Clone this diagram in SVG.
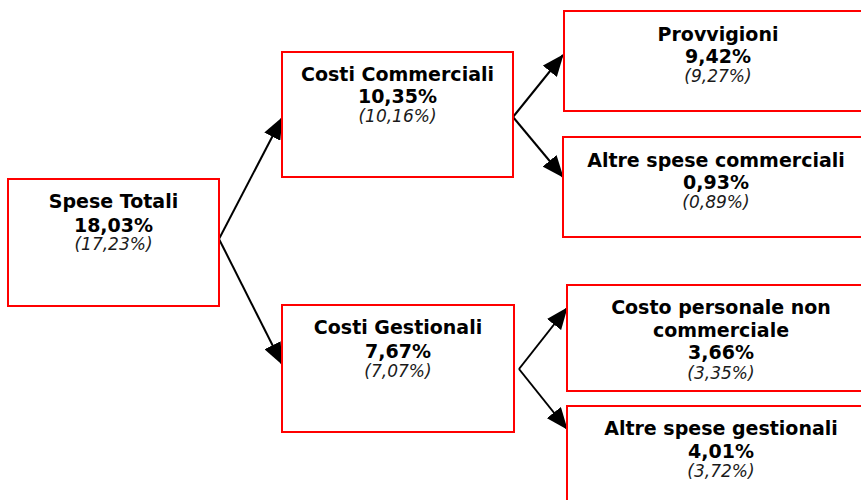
<svg xmlns="http://www.w3.org/2000/svg" width="861" height="500" viewBox="0 0 861 500">
<style>
.box{fill:#fff;stroke:#ff0000;stroke-width:2}
.t{font-family:"DejaVu Sans",Verdana,sans-serif;font-weight:bold;font-size:19px;fill:#000;text-anchor:middle}
.s{font-family:"DejaVu Sans",Verdana,sans-serif;font-style:italic;font-size:17px;fill:#1a1a1a;text-anchor:middle}
.c{stroke:#000;stroke-width:2;fill:none;marker-end:url(#ah)}
</style>
<defs>
<marker id="ah" markerUnits="userSpaceOnUse" markerWidth="22" markerHeight="18" refX="21" refY="9" orient="auto">
<path d="M0,0 L22,9 L0,18 z" fill="#000"/>
</marker>
</defs>
<rect width="861" height="500" fill="#fff"/>
<g id="connectors">
<line class="c" x1="219" y1="239" x2="282" y2="118"/>
<line class="c" x1="219" y1="239" x2="282" y2="364"/>
<line class="c" x1="513" y1="117" x2="563" y2="55"/>
<line class="c" x1="513" y1="117" x2="563" y2="177"/>
<line class="c" x1="519" y1="369" x2="567" y2="308"/>
<line class="c" x1="519" y1="369" x2="567" y2="429"/>
</g>
<g id="spese-totali">
<rect class="box" x="8" y="179" width="211" height="127"/>
<text class="t" x="113.5" y="208">Spese Totali</text>
<text class="t" x="113.5" y="232">18,03%</text>
<text class="s" x="113.5" y="250">(17,23%)</text>
</g>
<g id="costi-commerciali">
<rect class="box" x="282" y="52" width="231" height="125"/>
<text class="t" x="397.5" y="81">Costi Commerciali</text>
<text class="t" x="397.5" y="103">10,35%</text>
<text class="s" x="397.5" y="122">(10,16%)</text>
</g>
<g id="provvigioni">
<rect class="box" x="564" y="11" width="308" height="100"/>
<text class="t" x="718" y="41">Provvigioni</text>
<text class="t" x="718" y="63">9,42%</text>
<text class="s" x="718" y="82">(9,27%)</text>
</g>
<g id="altre-spese-commerciali">
<rect class="box" x="563" y="137" width="308" height="100"/>
<text class="t" x="716" y="167">Altre spese commerciali</text>
<text class="t" x="716" y="189">0,93%</text>
<text class="s" x="716" y="208">(0,89%)</text>
</g>
<g id="costi-gestionali">
<rect class="box" x="282" y="305" width="232" height="127"/>
<text class="t" x="398" y="334">Costi Gestionali</text>
<text class="t" x="398" y="358">7,67%</text>
<text class="s" x="398" y="377">(7,07%)</text>
</g>
<g id="costo-personale">
<rect class="box" x="567" y="285" width="308" height="106"/>
<text class="t" x="721" y="314">Costo personale non</text>
<text class="t" x="721" y="337">commerciale</text>
<text class="t" x="721" y="359">3,66%</text>
<text class="s" x="721" y="379">(3,35%)</text>
</g>
<g id="altre-spese-gestionali">
<rect class="box" x="567" y="406" width="308" height="110"/>
<text class="t" x="721" y="435">Altre spese gestionali</text>
<text class="t" x="721" y="458">4,01%</text>
<text class="s" x="721" y="477">(3,72%)</text>
</g>
</svg>
